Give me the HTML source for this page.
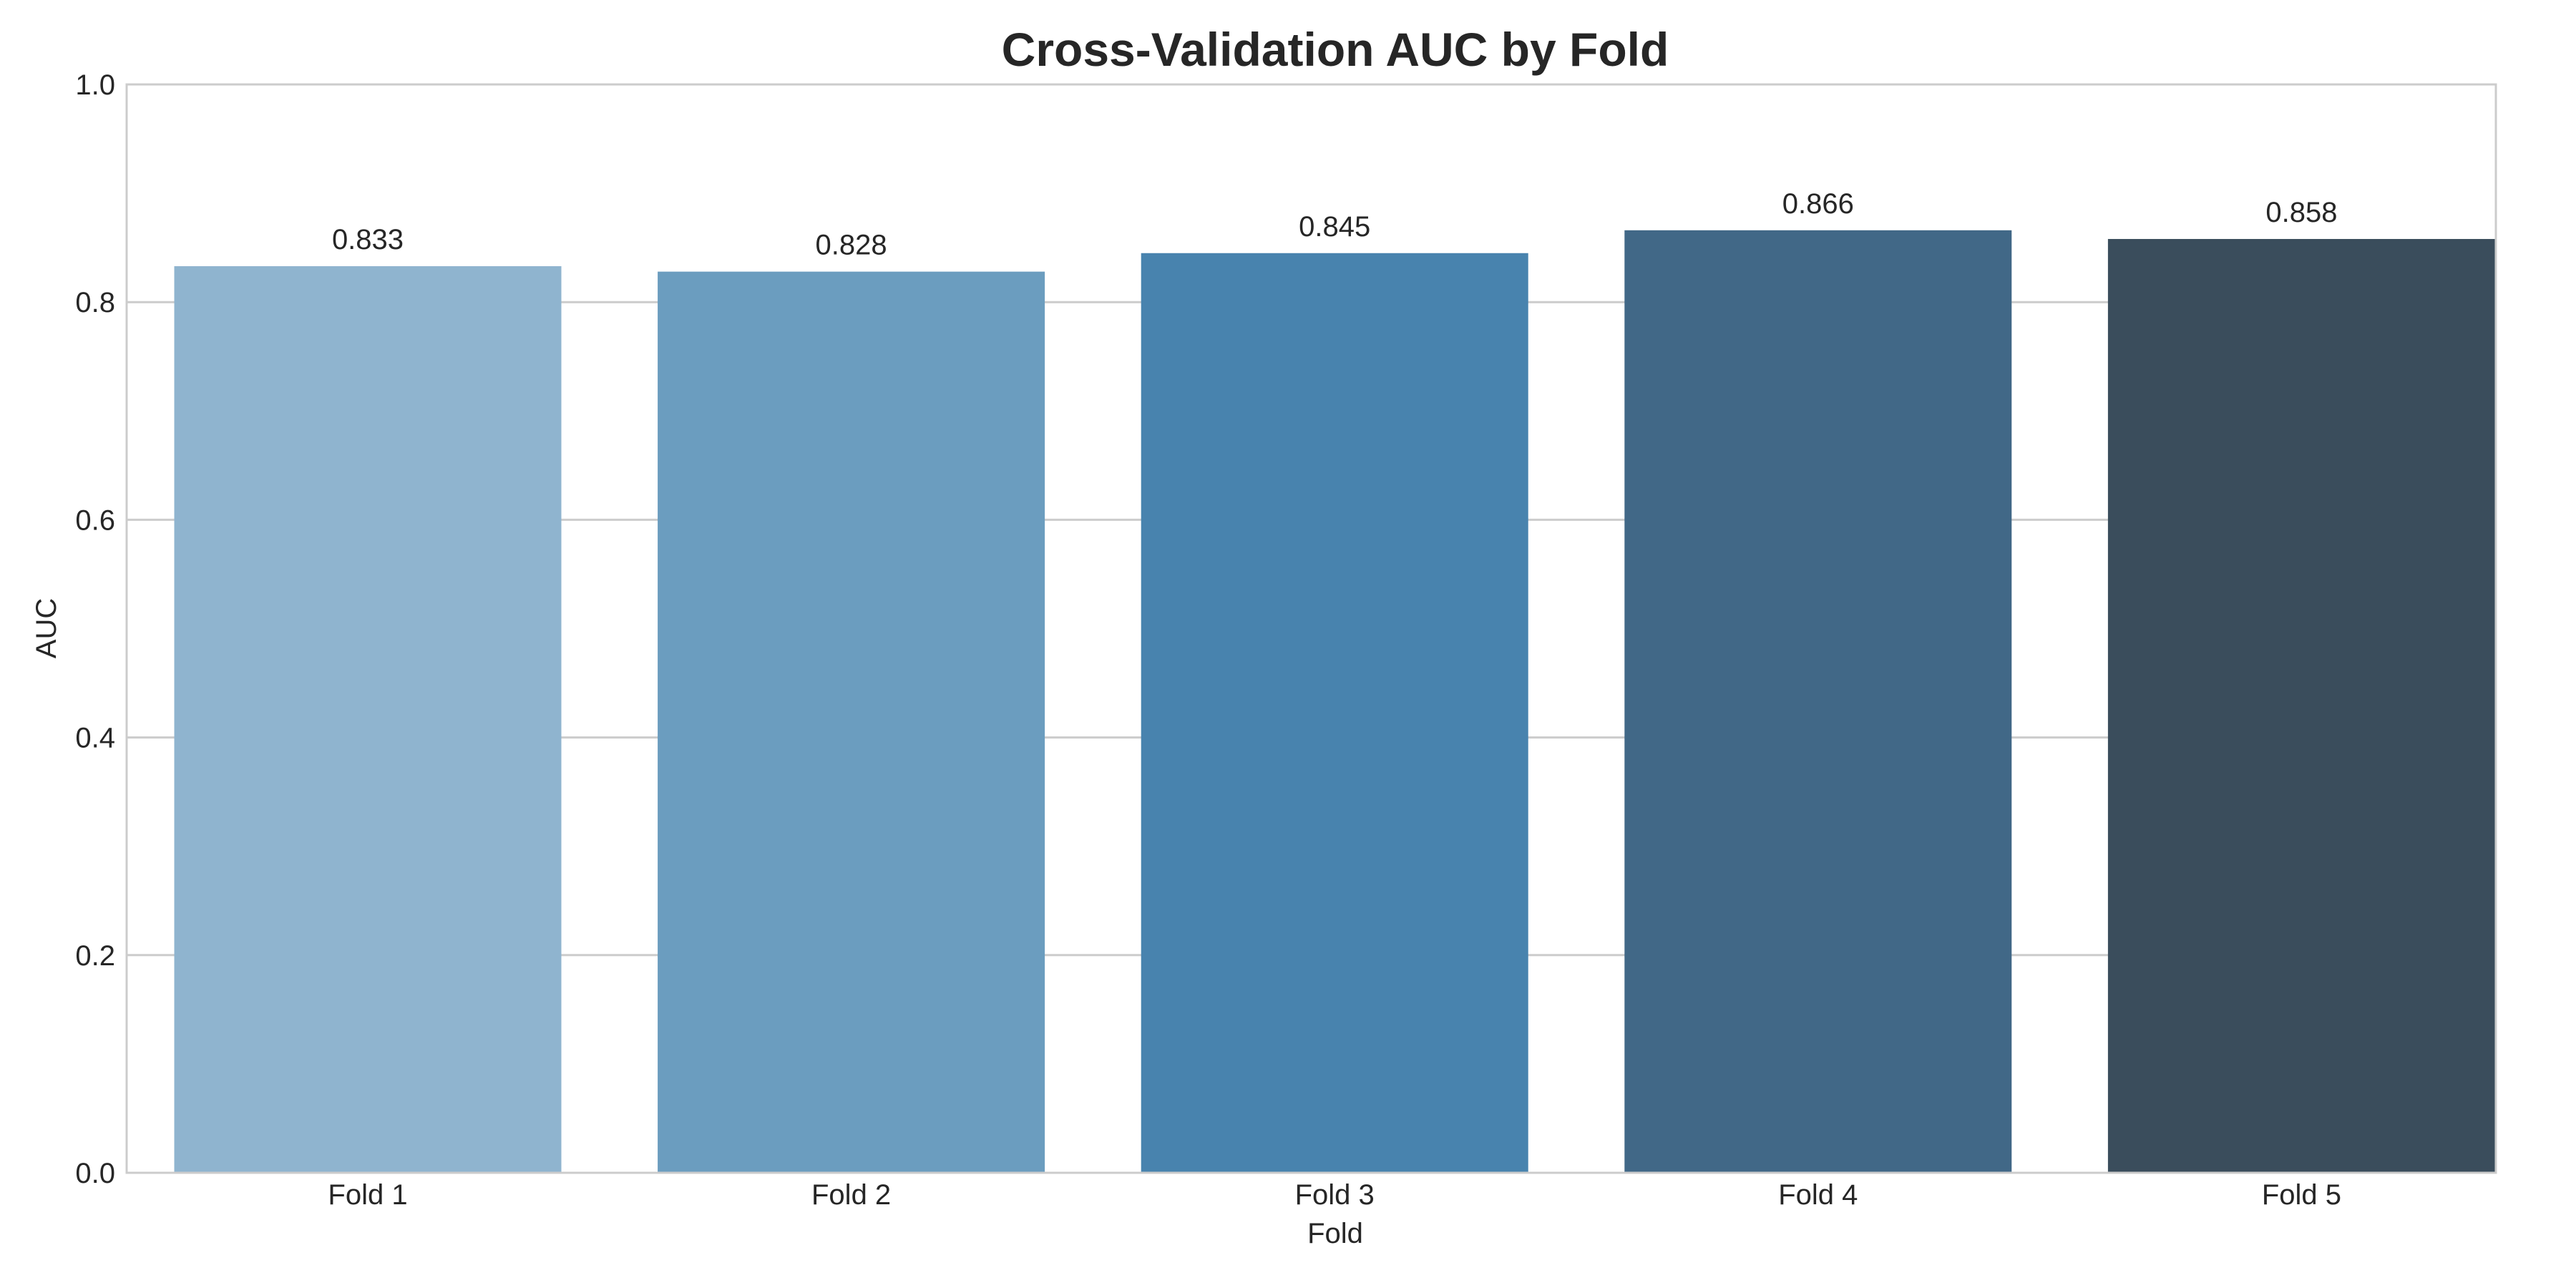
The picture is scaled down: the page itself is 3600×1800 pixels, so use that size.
<!DOCTYPE html>
<html><head><meta charset="utf-8"><style>
html,body{margin:0;padding:0;background:#fff;}
svg{display:block;font-family:"Liberation Sans",Arial,sans-serif;}
</style></head><body>
<svg id="chart" width="3600" height="1800" viewBox="0 0 3600 1800" xmlns="http://www.w3.org/2000/svg">
<rect width="3600" height="1800" fill="#fff"/>
<text x="1866" y="92" text-anchor="middle" font-size="66" font-weight="bold" fill="#262626">Cross-Validation AUC by Fold</text>
<g id="grid"></g>
<g id="bars"></g>
<g id="labels"></g>
<rect x="177" y="118" width="3311" height="1521" fill="none" stroke="#cccccc" stroke-width="3"/>
<text x="1866" y="1737" text-anchor="middle" font-size="40" fill="#262626">Fold</text>
<text x="0" y="0" transform="translate(78,878) rotate(-90)" text-anchor="middle" font-size="40" fill="#262626">AUC</text>
</svg>
<script>
const categories = ["Fold 1","Fold 2","Fold 3","Fold 4","Fold 5"];
const aucValues = [0.833, 0.828, 0.845, 0.866, 0.858];
const valueLabels = ["0.833","0.828","0.845","0.866","0.858"];
const yTicks = [0.0, 0.2, 0.4, 0.6, 0.8, 1.0];
const yTickLabels = ["0.0","0.2","0.4","0.6","0.8","1.0"];
const barColors = ["#8fb4cf","#6b9dbf","#4883ae","#416887","#3a4d5c"];

const NS = "http://www.w3.org/2000/svg";
const plotTop = 118, plotBottom = 1639;
const y = v => plotBottom - v * (plotBottom - plotTop);
const firstCenter = 514, step = 675.6, barW = 541;
const x = i => firstCenter + i * step;

const grid = document.getElementById('grid');
const bars = document.getElementById('bars');
const labels = document.getElementById('labels');
function mk(tag, attrs, parent){
  const e = document.createElementNS(NS, tag);
  for (const k in attrs) e.setAttribute(k, attrs[k]);
  parent.appendChild(e);
  return e;
}
yTicks.forEach((t, i) => {
  const gl = mk('line', {x1:177, x2:3488, y1:y(t), y2:y(t), stroke:'#cccccc', 'stroke-width':3}, grid);
  
  
  const tl = mk('text', {x:161, y:y(t)+14, 'text-anchor':'end', 'font-size':40, fill:'#262626'}, labels);
  tl.textContent = yTickLabels[i];
  
  
});
categories.forEach((c, i) => {
  const r = mk('rect', {x:x(i)-barW/2, y:y(aucValues[i]), width:barW, height:plotBottom - y(aucValues[i]), fill:barColors[i]}, bars);
  
  
  const v = mk('text', {x:x(i), y:y(aucValues[i]) - 24, 'text-anchor':'middle', 'font-size':40, fill:'#262626'}, labels);
  v.textContent = valueLabels[i];
  
  
  const xl = mk('text', {x:x(i), y:1683, 'text-anchor':'middle', 'font-size':40, fill:'#262626'}, labels);
  xl.textContent = c;
  
  
});
</script>
</body></html>
